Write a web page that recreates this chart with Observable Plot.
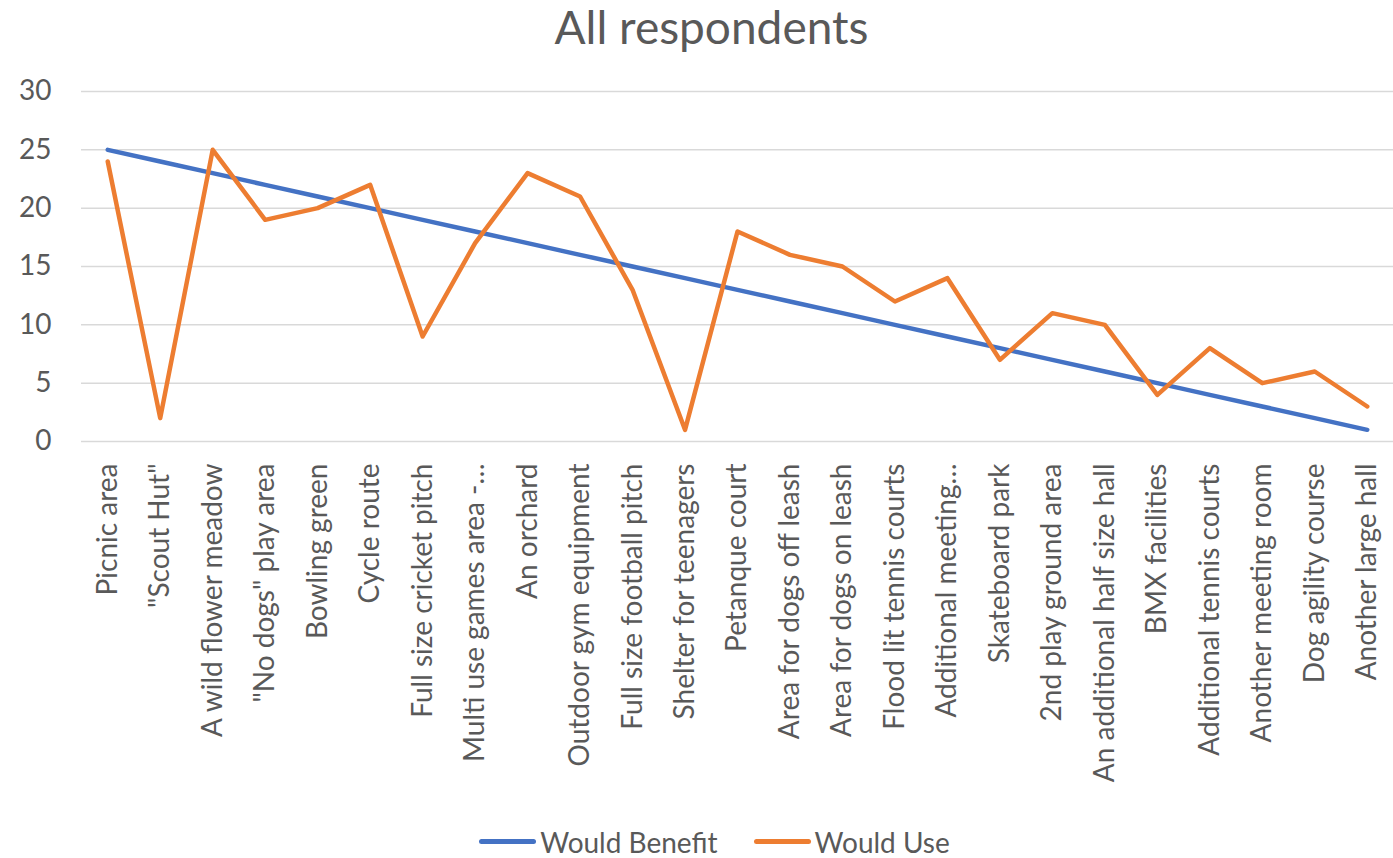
<!DOCTYPE html>
<html>
<head>
<meta charset="utf-8">
<script src="https://cdn.jsdelivr.net/npm/d3@7"></script>
<script src="https://cdn.jsdelivr.net/npm/@observablehq/plot@0.6"></script>
<style>
  html, body { margin: 0; padding: 0; background: #fff; }
  body { width: 1393px; height: 858px; overflow: hidden; font-family: Lato, "Open Sans", sans-serif; color: #595959; }
  #title { height: 55px; line-height: 54px; text-align: center; font-size: 46px; color: #595959; padding-left: 30px; }
  #chart svg { display: block; }
  #legend { display: flex; justify-content: center; align-items: center; height: 33px; font-size: 28px; color: #595959; padding-left: 36px; }
  .item { display: flex; align-items: center; margin: 0 18px; }
  .sw { width: 57px; height: 5px; border-radius: 3px; margin-right: 4px; }
</style>
</head>
<body>
<div id="title">All respondents</div>
<div id="chart"></div>
<div id="legend"></div>
<script>
const categories = [
  "Picnic area", "\"Scout Hut\"", "A wild flower meadow", "\"No dogs\" play area", "Bowling green",
  "Cycle route", "Full size cricket pitch", "Multi use games area -…", "An orchard", "Outdoor gym equipment",
  "Full size football pitch", "Shelter for teenagers", "Petanque court", "Area for dogs off leash", "Area for dogs on leash",
  "Flood lit tennis courts", "Additional meeting…", "Skateboard park", "2nd play ground area", "An additional half size hall",
  "BMX facilities", "Additional tennis courts", "Another meeting room", "Dog agility course", "Another large hall"
];
const wouldBenefit = [25, 24, 23, 22, 21, 20, 19, 18, 17, 16, 15, 14, 13, 12, 11, 10, 9, 8, 7, 6, 5, 4, 3, 2, 1];
const wouldUse = [24, 2, 25, 19, 20, 22, 9, 17, 23, 21, 13, 1, 18, 16, 15, 12, 14, 7, 11, 10, 4, 8, 5, 6, 3];
const yTicks = [0, 5, 10, 15, 20, 25, 30];
const seriesNames = ["Would Benefit", "Would Use"];
const seriesColors = ["#4472C4", "#ED7D31"];

const data = [];
categories.forEach((c, i) => {
  data.push({category: c, series: seriesNames[0], value: wouldBenefit[i]});
  data.push({category: c, series: seriesNames[1], value: wouldUse[i]});
});

const chart = Plot.plot({
  width: 1393,
  height: 770,
  marginLeft: 81,
  marginRight: 0,
  marginTop: 36,
  marginBottom: 384,
  style: {fontFamily: "Lato, 'Open Sans', sans-serif", color: "#595959", background: "#fff"},
  x: {type: "point", domain: categories, padding: 0.5, round: false, label: null},
  y: {domain: [0, 30], ticks: yTicks, label: null},
  color: {domain: seriesNames, range: seriesColors},
  marks: [
    Plot.gridY(yTicks, {stroke: "#d9d9d9", strokeOpacity: 1, strokeWidth: 1.5}),
    Plot.axisY(yTicks, {tickSize: 0, tickPadding: 30, fontSize: 28, label: null, fill: "#595959"}),
    Plot.axisX({tickSize: 0, tickRotate: -90, tickPadding: 22, fontSize: 28, label: null, fill: "#595959"}),
    Plot.line(data, {x: "category", y: "value", z: "series", stroke: "series", strokeWidth: 4.5, strokeLinejoin: "round", strokeLinecap: "round"})
  ]
});
document.getElementById("chart").appendChild(chart);

const legend = document.getElementById("legend");
seriesNames.forEach((n, i) => {
  const item = document.createElement("div");
  item.className = "item";
  const sw = document.createElement("div");
  sw.className = "sw";
  sw.style.background = seriesColors[i];
  const t = document.createElement("span");
  t.textContent = n;
  item.appendChild(sw);
  item.appendChild(t);
  legend.appendChild(item);
});
</script>
</body>
</html>
